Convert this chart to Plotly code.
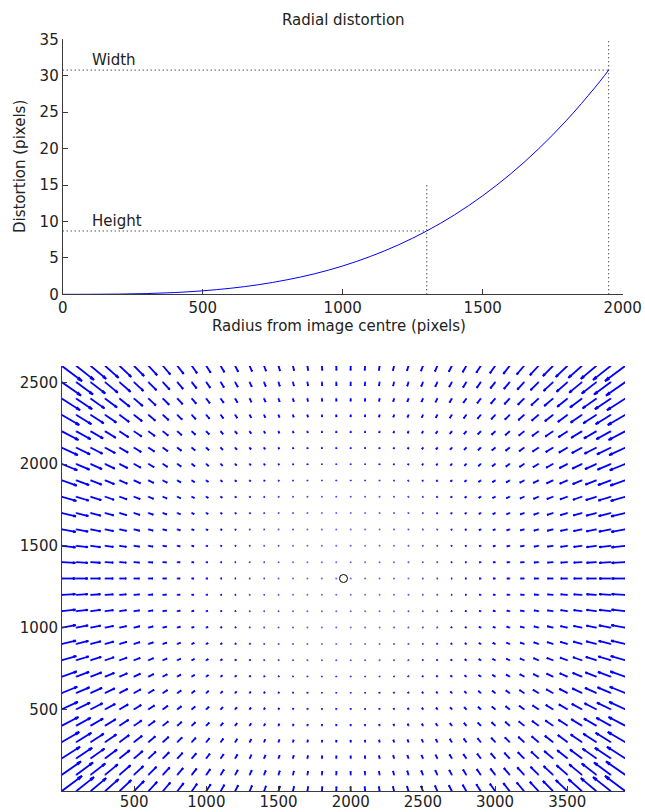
import numpy as np
import plotly.graph_objects as go

# ---- Data ----
# Top panel: radial distortion profile (radius in pixels -> distortion in pixels)
radius_px = [0, 100, 200, 300, 400, 500, 600, 700, 800, 900, 1000,
             1100, 1200, 1300, 1400, 1500, 1600, 1700, 1800, 1900, 1950]
distortion_px = [0.0, 0.004, 0.03, 0.10, 0.24, 0.48, 0.83, 1.32, 1.98, 2.82, 3.89,
                 5.21, 6.80, 8.69, 10.92, 13.53, 16.53, 19.98, 23.90, 28.34, 30.77]

# Reference markers on the top panel
marker_names = ["Width", "Height"]
marker_radius = [1950, 1300]
marker_distortion = [30.77, 8.69]
marker_vline_top = [35, 15]

# Bottom panel: sampling grid and image centre
grid_x = list(range(0, 3901, 100))
grid_y = list(range(0, 2601, 100))
centre_x = [1950]
centre_y = [1300]

top_xticks = [0, 500, 1000, 1500, 2000]
top_yticks = [0, 5, 10, 15, 20, 25, 30, 35]
bot_xticks = [500, 1000, 1500, 2000, 2500, 3000, 3500]
bot_yticks = [500, 1000, 1500, 2000, 2500]

# ---- Build quiver from the read radial profile ----
ARROW_SCALE = 3.0
r_k = np.array(radius_px, float) / 1000.0
A = np.vstack([r_k ** 3, r_k ** 5]).T
coef, *_ = np.linalg.lstsq(A, np.array(distortion_px, float), rcond=None)

def dist_of(r):
    rk = r / 1000.0
    return coef[0] * rk ** 3 + coef[1] * rk ** 5

cx, cy = centre_x[0], centre_y[0]
qx, qy = [], []
alpha, beta = 0.2, 0.2
for gx in grid_x:
    for gy in grid_y:
        dx, dy = cx - gx, cy - gy
        r = np.hypot(dx, dy)
        if r == 0:
            continue
        d = dist_of(r) * ARROW_SCALE
        u, v = d * dx / r, d * dy / r
        tx, ty = gx + u, gy + v
        h1x, h1y = tx - alpha * (u + beta * v), ty - alpha * (v - beta * u)
        h2x, h2y = tx - alpha * (u - beta * v), ty - alpha * (v + beta * u)
        qx += [gx, tx, None, h1x, tx, h2x, None]
        qy += [gy, ty, None, h1y, ty, h2y, None]

W, H = 645, 812
FONT = "DejaVu Sans, Arial, sans-serif"
FS = 15
AX = "#3a3a3a"
TXT = "#222222"

fig = go.Figure()
# top panel
fig.add_trace(go.Scatter(x=radius_px, y=distortion_px, mode="lines", line_shape="spline",
                         line=dict(color="#0000ff", width=1), xaxis="x", yaxis="y",
                         showlegend=False, hoverinfo="skip"))
for name, rr, dd, vt in zip(marker_names, marker_radius, marker_distortion, marker_vline_top):
    fig.add_trace(go.Scatter(x=[0, rr], y=[dd, dd], mode="lines",
                             line=dict(color="black", width=1, dash="1px,3px"),
                             xaxis="x", yaxis="y", showlegend=False, hoverinfo="skip"))
    fig.add_trace(go.Scatter(x=[rr, rr], y=[0, vt], mode="lines",
                             line=dict(color="black", width=1, dash="1px,3px"),
                             xaxis="x", yaxis="y", showlegend=False, hoverinfo="skip"))

# bottom panel
fig.add_trace(go.Scatter(x=qx, y=qy, mode="lines", line=dict(color="#0000ff", width=1.8),
                         xaxis="x2", yaxis="y2", showlegend=False, hoverinfo="skip"))
gxx, gyy = np.meshgrid(grid_x, grid_y)
fig.add_trace(go.Scatter(x=gxx.ravel(), y=gyy.ravel(), mode="markers",
                         marker=dict(color="#0000ff", size=2, opacity=0.6),
                         xaxis="x2", yaxis="y2", showlegend=False, hoverinfo="skip"))
fig.add_trace(go.Scatter(x=centre_x, y=centre_y, mode="markers",
                         marker=dict(symbol="circle-open", size=8, color="black",
                                     line=dict(width=1, color="black")),
                         xaxis="x2", yaxis="y2", showlegend=False, hoverinfo="skip"))

def px_x(a, b):
    return [a / W, b / W]

def px_y(top, bottom):
    return [1 - bottom / H, 1 - top / H]

axis_common = dict(showline=True, linecolor=AX, linewidth=1, ticks="inside", ticklen=5,
                   tickcolor=AX, showgrid=False, zeroline=False, mirror=False,
                   automargin=False,
                   tickfont=dict(family=FONT, size=FS, color=TXT))

fig.update_layout(
    width=W, height=H, autosize=False,
    margin=dict(l=0, r=0, t=0, b=0, pad=0, autoexpand=False),
    plot_bgcolor="white", paper_bgcolor="white",
    font=dict(family=FONT, size=FS, color=TXT),
    xaxis=dict(domain=px_x(62.7, 622.7), range=[0, 2000], tickvals=top_xticks,
               anchor="y", **axis_common),
    yaxis=dict(domain=px_y(39.3, 294.3), range=[0, 35], tickvals=top_yticks,
               anchor="x", **axis_common),
    xaxis2=dict(domain=px_x(62, 625), range=[0, 3900], tickvals=bot_xticks,
                anchor="y2", ticklabelstandoff=-3, **axis_common),
    yaxis2=dict(domain=px_y(366, 791), range=[0, 2600], tickvals=bot_yticks,
                anchor="x2", **axis_common),
    annotations=[
        dict(text="Radial distortion", x=343 / W, y=1 - 20 / H, xref="paper", yref="paper",
             showarrow=False, xanchor="center", yanchor="middle", font=dict(size=FS)),
        dict(text="Radius from image centre (pixels)", x=339 / W, y=1 - 326 / H,
             xref="paper", yref="paper", showarrow=False, xanchor="center",
             yanchor="middle", font=dict(size=FS)),
        dict(text="Distortion (pixels)", x=20 / W, y=1 - 167 / H, xref="paper",
             yref="paper", showarrow=False, textangle=-90, xanchor="center",
             yanchor="middle", font=dict(size=FS)),
    ] + [
        dict(text=n, x=100, y=d, xref="x", yref="y", showarrow=False, xanchor="left",
             yanchor="bottom", font=dict(size=FS), borderpad=0)
        for n, d in zip(marker_names, marker_distortion)
    ],
)

fig.write_html("out.html", config={"displayModeBar": False},
               post_script="document.body.style.margin='0';document.body.style.overflow='hidden';")
